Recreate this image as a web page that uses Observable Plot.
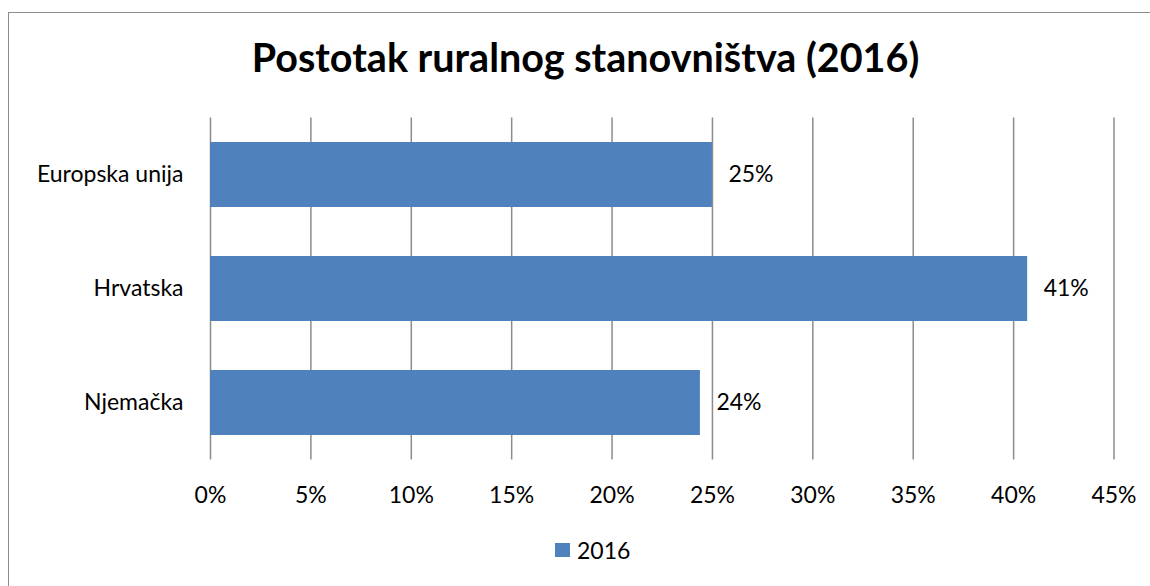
<!DOCTYPE html>
<html>
<head>
<meta charset="utf-8">
<script src="https://cdn.jsdelivr.net/npm/d3@7"></script>
<script src="https://cdn.jsdelivr.net/npm/@observablehq/plot@0.6"></script>
<style>
  html, body { margin: 0; padding: 0; background: #fff; width: 1150px; height: 586px; overflow: hidden; }
  #frame { position: absolute; left: 8px; top: 12px; width: 1160px; height: 600px; border-left: 1px solid #8c8c8c; border-top: 1px solid #8c8c8c; box-sizing: border-box; }
  #title { position: absolute; left: 0; width: 1171px; top: 33px; text-align: center; font-family: Lato, sans-serif; font-weight: bold; font-size: 39.5px; line-height: 48px; color: #000; white-space: nowrap; }
  #chart { position: absolute; left: 0; top: 100px; }
  #legend { position: absolute; left: 555px; top: 538px; font-family: Lato, sans-serif; font-size: 23px; line-height: 24px; color: #000; display: flex; align-items: center; white-space: nowrap; }
  #legend .sw { display: inline-block; width: 15px; height: 14px; background: #4F81BD; margin-right: 7px; }
</style>
</head>
<body>
<div id="frame"></div>
<div id="title">Postotak ruralnog stanovništva (2016)</div>
<div id="chart"></div>
<div id="legend"></div>
<script>
const categories = ["Europska unija", "Hrvatska", "Njemačka"];
const values2016 = [0.250, 0.407, 0.244];
const seriesName = "2016";
const xTicks = [0, 0.05, 0.10, 0.15, 0.20, 0.25, 0.30, 0.35, 0.40, 0.45];

const data = categories.map((c, i) => ({category: c, value: values2016[i]}));
const barColor = "#4F81BD";
const pct = d3.format(".0%");
const fs = 23;

const chart = Plot.plot({
  width: 1150,
  height: 420,
  marginLeft: 210,
  marginRight: 36.5,
  marginTop: 17.5,
  marginBottom: 60.5,
  style: {fontFamily: "Lato, sans-serif", fontSize: fs + "px", color: "#000", background: "transparent"},
  x: {domain: [0, 0.45], ticks: xTicks, tickFormat: pct},
  y: {domain: categories, paddingInner: 0.43, paddingOuter: 0.215},
  marks: [
    Plot.gridX(xTicks, {stroke: "#8c8c8c", strokeOpacity: 1, strokeWidth: 1.5}),
    Plot.barX(data, {y: "category", x: "value", fill: barColor}),
    Plot.text(data, {y: "category", x: "value", text: d => pct(d.value), textAnchor: "start", dx: 16, fill: "#000", fontSize: fs}),
    Plot.axisX(xTicks, {tickSize: 0, tickPadding: 26.5, tickFormat: pct, label: null, fontSize: fs, fill: "#000"}),
    Plot.axisY({tickSize: 0, tickPadding: 27, label: null, fontSize: fs, fill: "#000"})
  ]
});
document.getElementById("chart").appendChild(chart);

const legend = document.getElementById("legend");
const sw = document.createElement("span");
sw.className = "sw";
legend.appendChild(sw);
legend.appendChild(document.createTextNode(seriesName));
</script>
</body>
</html>
